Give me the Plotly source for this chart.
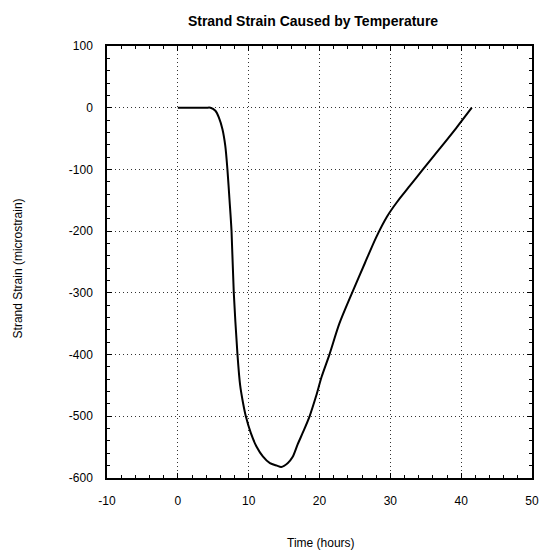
import plotly.graph_objects as go

# Strand strain vs. time (hours)
time_hours = [0, 2, 4, 4.6, 5.3, 5.8, 6.3, 6.7, 7.0, 7.3, 7.58, 7.9, 8.42, 8.8, 9.2, 9.6,
              10.3, 11.1, 12.0, 13.0, 14.0, 14.6, 15.5, 16.2, 16.9, 17.7, 18.6, 19.5,
              20.3, 21.4, 22.8, 24.6, 26.4, 28.0, 29.5, 31.0, 32.8, 34.6, 37.0, 39.3, 41.5]
strain = [0, 0, 0, 0, -5, -16, -35, -62, -100, -150, -200, -300, -400, -450, -478, -500,
          -527, -549, -565, -576, -580, -582, -576, -566, -546, -525, -500, -468,
          -436, -400, -350, -300, -252, -210, -177, -152, -126, -100, -66, -33, 0]

x_ticks = [-10, 0, 10, 20, 30, 40, 50]
x_tick_text = ["-10", "0", "10", "20", "30", "40", "50"]
y_ticks = [100, 0, -100, -200, -300, -400, -500, -600]
y_tick_text = ["100", "0", "-100", "-200", "-300", "-400", "-500", "-600"]

FONT = "Liberation Sans, Arial, sans-serif"

fig = go.Figure()
fig.add_trace(go.Scatter(
    x=time_hours, y=strain, mode="lines",
    line=dict(color="black", width=2, shape="spline", smoothing=0.8),
    showlegend=False, hoverinfo="skip",
))

axis_common = dict(
    showline=True, linecolor="black", linewidth=1.5, mirror="allticks",
    ticks="inside", ticklen=5, tickcolor="black", tickwidth=1,
    showgrid=True, gridcolor="#333", gridwidth=1, griddash="1px,3px",
    zeroline=False,
    tickfont=dict(family=FONT, size=12, color="black"),
)

fig.update_xaxes(
    range=[-10, 50], tickvals=x_ticks, ticktext=x_tick_text,
    minor=dict(dtick=2, ticks="inside", ticklen=3, tickcolor="black", showgrid=False),
    ticklabelstandoff=11,
    **axis_common,
)
fig.update_yaxes(
    range=[-600, 100], tickvals=y_ticks, ticktext=y_tick_text,
    minor=dict(dtick=20, ticks="inside", ticklen=3, tickcolor="black", showgrid=False),
    ticklabelstandoff=10,
    **axis_common,
)

fig.update_layout(
    width=549, height=557,
    margin=dict(l=107, r=10, t=46, b=79),
    paper_bgcolor="white", plot_bgcolor="white",
    font=dict(family=FONT, color="black"),
    title=dict(
        text="<b>Strand Strain Caused by Temperature</b>",
        font=dict(family=FONT, size=14, color="black"),
        x=313 / 549, xanchor="center", y=1 - 21 / 557, yanchor="middle",
    ),
    annotations=[
        dict(text="Strand Strain (microstrain)", xref="paper", yref="paper",
             x=(17 - 107) / 432, y=(478 - 268) / 432, textangle=-90,
             showarrow=False, xanchor="center", yanchor="middle",
             font=dict(family=FONT, size=12, color="black")),
        dict(text="Time (hours)", xref="paper", yref="paper",
             x=(325 - 107) / 432, y=-(543 - 478) / 432,
             showarrow=False, xanchor="center", yanchor="middle",
             font=dict(family=FONT, size=12, color="black")),
    ],
)

fig.write_html("out.html")
